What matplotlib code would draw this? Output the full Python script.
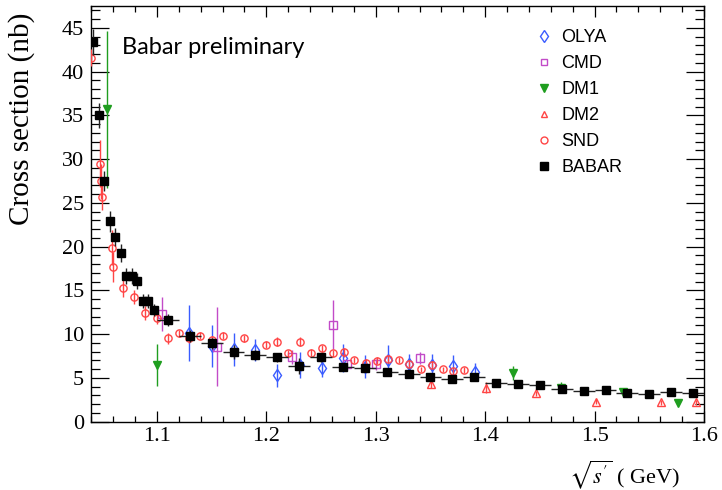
import matplotlib
matplotlib.use("Agg")
import matplotlib.pyplot as plt
from matplotlib.lines import Line2D
from matplotlib.ticker import MultipleLocator

# ---- data ----
babar_x = [1.0413, 1.047, 1.0517, 1.057, 1.062, 1.067, 1.072, 1.077, 1.082, 1.087,
           1.092, 1.097, 1.11, 1.13, 1.15, 1.17, 1.19, 1.21, 1.23, 1.25, 1.27,
           1.29, 1.31, 1.33, 1.35, 1.37, 1.39, 1.41, 1.43, 1.45, 1.47, 1.49,
           1.51, 1.53, 1.55, 1.57, 1.59]
babar_y = [43.4, 35.0, 27.5, 22.9, 21.1, 19.3, 16.65, 16.65, 16.1, 13.8, 13.8, 12.8,
           11.6, 9.8, 8.96, 8.0, 7.6, 7.36, 6.4, 7.36, 6.29, 6.1, 5.71, 5.49, 5.07,
           4.84, 5.1, 4.37, 4.3, 4.16, 3.77, 3.47, 3.62, 3.28, 3.13, 3.36, 3.28]
babar_err = [1.5, 1.4, 1.1, 1.2, 1.0, 1.0, 0.9, 0.9, 0.9, 0.8, 0.8, 0.7, 0.7, 0.7,
             0.6, 0.8, 0.6, 0.5, 0.9, 0.5, 0.4, 0.4, 0.4, 0.4, 0.4, 0.3, 0.3, 0.3,
             0.3, 0.3, 0.3, 0.3, 0.3, 0.3, 0.3, 0.3, 0.3]
babar_xerr = [0.0025] * 12 + [0.01] * 25

snd_x = [1.0400, 1.048, 1.049, 1.050, 1.0585, 1.0595, 1.0694, 1.0792, 1.0895, 1.100,
         1.1097, 1.1198, 1.1296, 1.1397, 1.150, 1.160, 1.180, 1.200, 1.210, 1.220,
         1.2305, 1.2406, 1.2505, 1.261, 1.2706, 1.2804, 1.2908, 1.301, 1.3116,
         1.3211, 1.3308, 1.341, 1.3514, 1.361, 1.371, 1.381]
snd_y = [41.6, 29.5, 27.5, 25.7, 19.9, 17.7, 15.3, 14.3, 12.46, 11.8, 9.53, 10.1,
         9.53, 9.8, 9.34, 9.83, 9.53, 8.77, 9.14, 7.8, 9.14, 7.89, 8.39, 7.8, 7.93,
         7.05, 6.74, 6.97, 7.17, 7.05, 6.6, 5.98, 6.48, 5.98, 5.79, 5.91]
snd_err = [1.0, 2.7, 2.0, 1.5, 2.0, 1.7, 1.0, 0.8, 0.8, 0.6, 0.6, 0.4, 0.5, 0.4,
           0.5, 0.4, 0.4, 0.4, 0.5, 0.4, 0.5, 0.4, 0.4, 0.4, 0.5, 0.3, 0.4, 0.4,
           0.4, 0.3, 0.4, 0.3, 0.4, 0.3, 0.3, 0.3]

olya_x = [1.1296, 1.150, 1.170, 1.190, 1.210, 1.2305, 1.2505, 1.2703, 1.2905,
          1.311, 1.3308, 1.351, 1.371, 1.391]
olya_y = [10.17, 8.7, 8.27, 8.2, 5.3, 6.5, 6.1, 7.24, 6.3, 7.05, 6.6, 6.48, 6.37, 5.71]
olya_err = [3.2, 2.4, 1.9, 1.3, 1.3, 1.5, 1.0, 1.6, 1.3, 1.7, 1.1, 1.2, 1.2, 1.0]

cmd_x = [1.1046, 1.155, 1.223, 1.261, 1.274, 1.300, 1.3406]
cmd_y = [12.3, 8.57, 7.36, 11.05, 6.56, 6.56, 7.31]
cmd_err = [1.9, 4.5, 0.8, 2.8, 0.5, 0.6, 0.7]

dm1_x = [1.0547, 1.100, 1.425, 1.469, 1.526, 1.576]
dm1_y = [35.7, 6.48, 5.53, 3.9, 3.43, 2.17]
dm1_err = [9.0, 2.4, 0.8, 0.6, 0.4, 0.3]

dm2_x = [1.3508, 1.4006, 1.4464, 1.5015, 1.561, 1.5923]
dm2_y = [4.31, 3.89, 3.24, 2.29, 2.22, 2.22]
dm2_err = [0.5, 0.6, 0.3, 0.3, 0.3, 0.3]

c_olya = "#3a5cff"
c_cmd = "#c24bc8"
c_dm1 = "#1f9e1f"
c_red = "#ff4545"

plt.rcParams["font.family"] = ["Liberation Serif", "DejaVu Serif"]
plt.rcParams["mathtext.fontset"] = "stix"

fig = plt.figure(figsize=(7.22, 4.9), dpi=100)
ax = fig.add_axes([91 / 722, 1 - 421.7 / 490, (704 - 91) / 722, (421.7 - 6) / 490])

common = dict(linestyle="none", elinewidth=1.0, capsize=0)

ax.errorbar(snd_x, snd_y, yerr=snd_err, marker="o", ms=5.2, mfc="none", mec=c_red,
            mew=1.0, ecolor=c_red, zorder=3, **common)
ax.errorbar(olya_x, olya_y, yerr=olya_err, marker="d", ms=6.5, mfc="none", mec=c_olya,
            mew=1.0, ecolor=c_olya, zorder=2, **common)
ax.errorbar(cmd_x, cmd_y, yerr=cmd_err, marker="s", ms=5.2, mfc="none", mec=c_cmd,
            mew=1.0, ecolor=c_cmd, zorder=2, **common)
ax.errorbar(dm1_x, dm1_y, yerr=dm1_err, marker="v", ms=6, mfc=c_dm1, mec=c_dm1,
            ecolor=c_dm1, zorder=2, **common)
ax.errorbar(dm2_x, dm2_y, yerr=dm2_err, marker="^", ms=5.5, mfc="none", mec=c_red,
            mew=1.0, ecolor=c_red, zorder=2, **common)
ax.errorbar(babar_x, babar_y, yerr=babar_err, xerr=babar_xerr, marker="s", ms=5.5,
            mfc="black", mec="black", ecolor="#222222", zorder=4, **common)

ax.set_xlim(1.0397, 1.6)
ax.set_ylim(0, 47.5)
ax.xaxis.set_major_locator(MultipleLocator(0.1))
ax.xaxis.set_minor_locator(MultipleLocator(0.02))
ax.yaxis.set_major_locator(MultipleLocator(5))
ax.yaxis.set_minor_locator(MultipleLocator(1))
ax.set_xticks([1.1, 1.2, 1.3, 1.4, 1.5, 1.6])
ax.set_xticklabels(["1.1", "1.2", "1.3", "1.4", "1.5", "1.6"])

ax.tick_params(which="both", direction="in", top=True, right=True, width=0.9,
               labelsize=16)
ax.tick_params(axis="x", which="major", length=8, pad=4)
ax.tick_params(axis="x", which="minor", length=4)
ax.tick_params(axis="y", which="major", length=13, pad=5)
ax.tick_params(axis="y", which="minor", length=6.5)
for s in ax.spines.values():
    s.set_linewidth(1.0)

fig.text(22 / 722, 1 - 119 / 490, "Cross section (nb)", rotation=90, fontsize=21,
         ha="center", va="center")
fig.text(680 / 722, 1 - 475 / 490, r"$\sqrt{s^{\prime}}$ ( GeV)", fontsize=16,
         ha="right", va="center")

ax.text(122 / 722, 1 - 47 / 490, "Babar preliminary", transform=fig.transFigure,
        fontsize=17, family="Lato", ha="left", va="center")

handles = [
    Line2D([], [], ls="none", marker="d", ms=6, mfc="none", mec=c_olya, mew=1.0),
    Line2D([], [], ls="none", marker="s", ms=5, mfc="none", mec=c_cmd, mew=1.0),
    Line2D([], [], ls="none", marker="v", ms=5.5, mfc=c_dm1, mec=c_dm1),
    Line2D([], [], ls="none", marker="^", ms=5, mfc="none", mec=c_red, mew=1.0),
    Line2D([], [], ls="none", marker="o", ms=5, mfc="none", mec=c_red, mew=1.0),
    Line2D([], [], ls="none", marker="s", ms=5.5, mfc="black", mec="black"),
]
labels = ["OLYA", "CMD", "DM1", "DM2", "SND", "BABAR"]
fig.legend(handles, labels, loc="upper left",
           bbox_to_anchor=(534.5 / 722, 1 - 29 / 490), frameon=False,
           prop={"family": "Liberation Sans", "size": 13},
           handlelength=1.0, handletextpad=0.5, labelspacing=0.5,
           borderpad=0, borderaxespad=0)

fig.savefig("out.png", dpi=100)
